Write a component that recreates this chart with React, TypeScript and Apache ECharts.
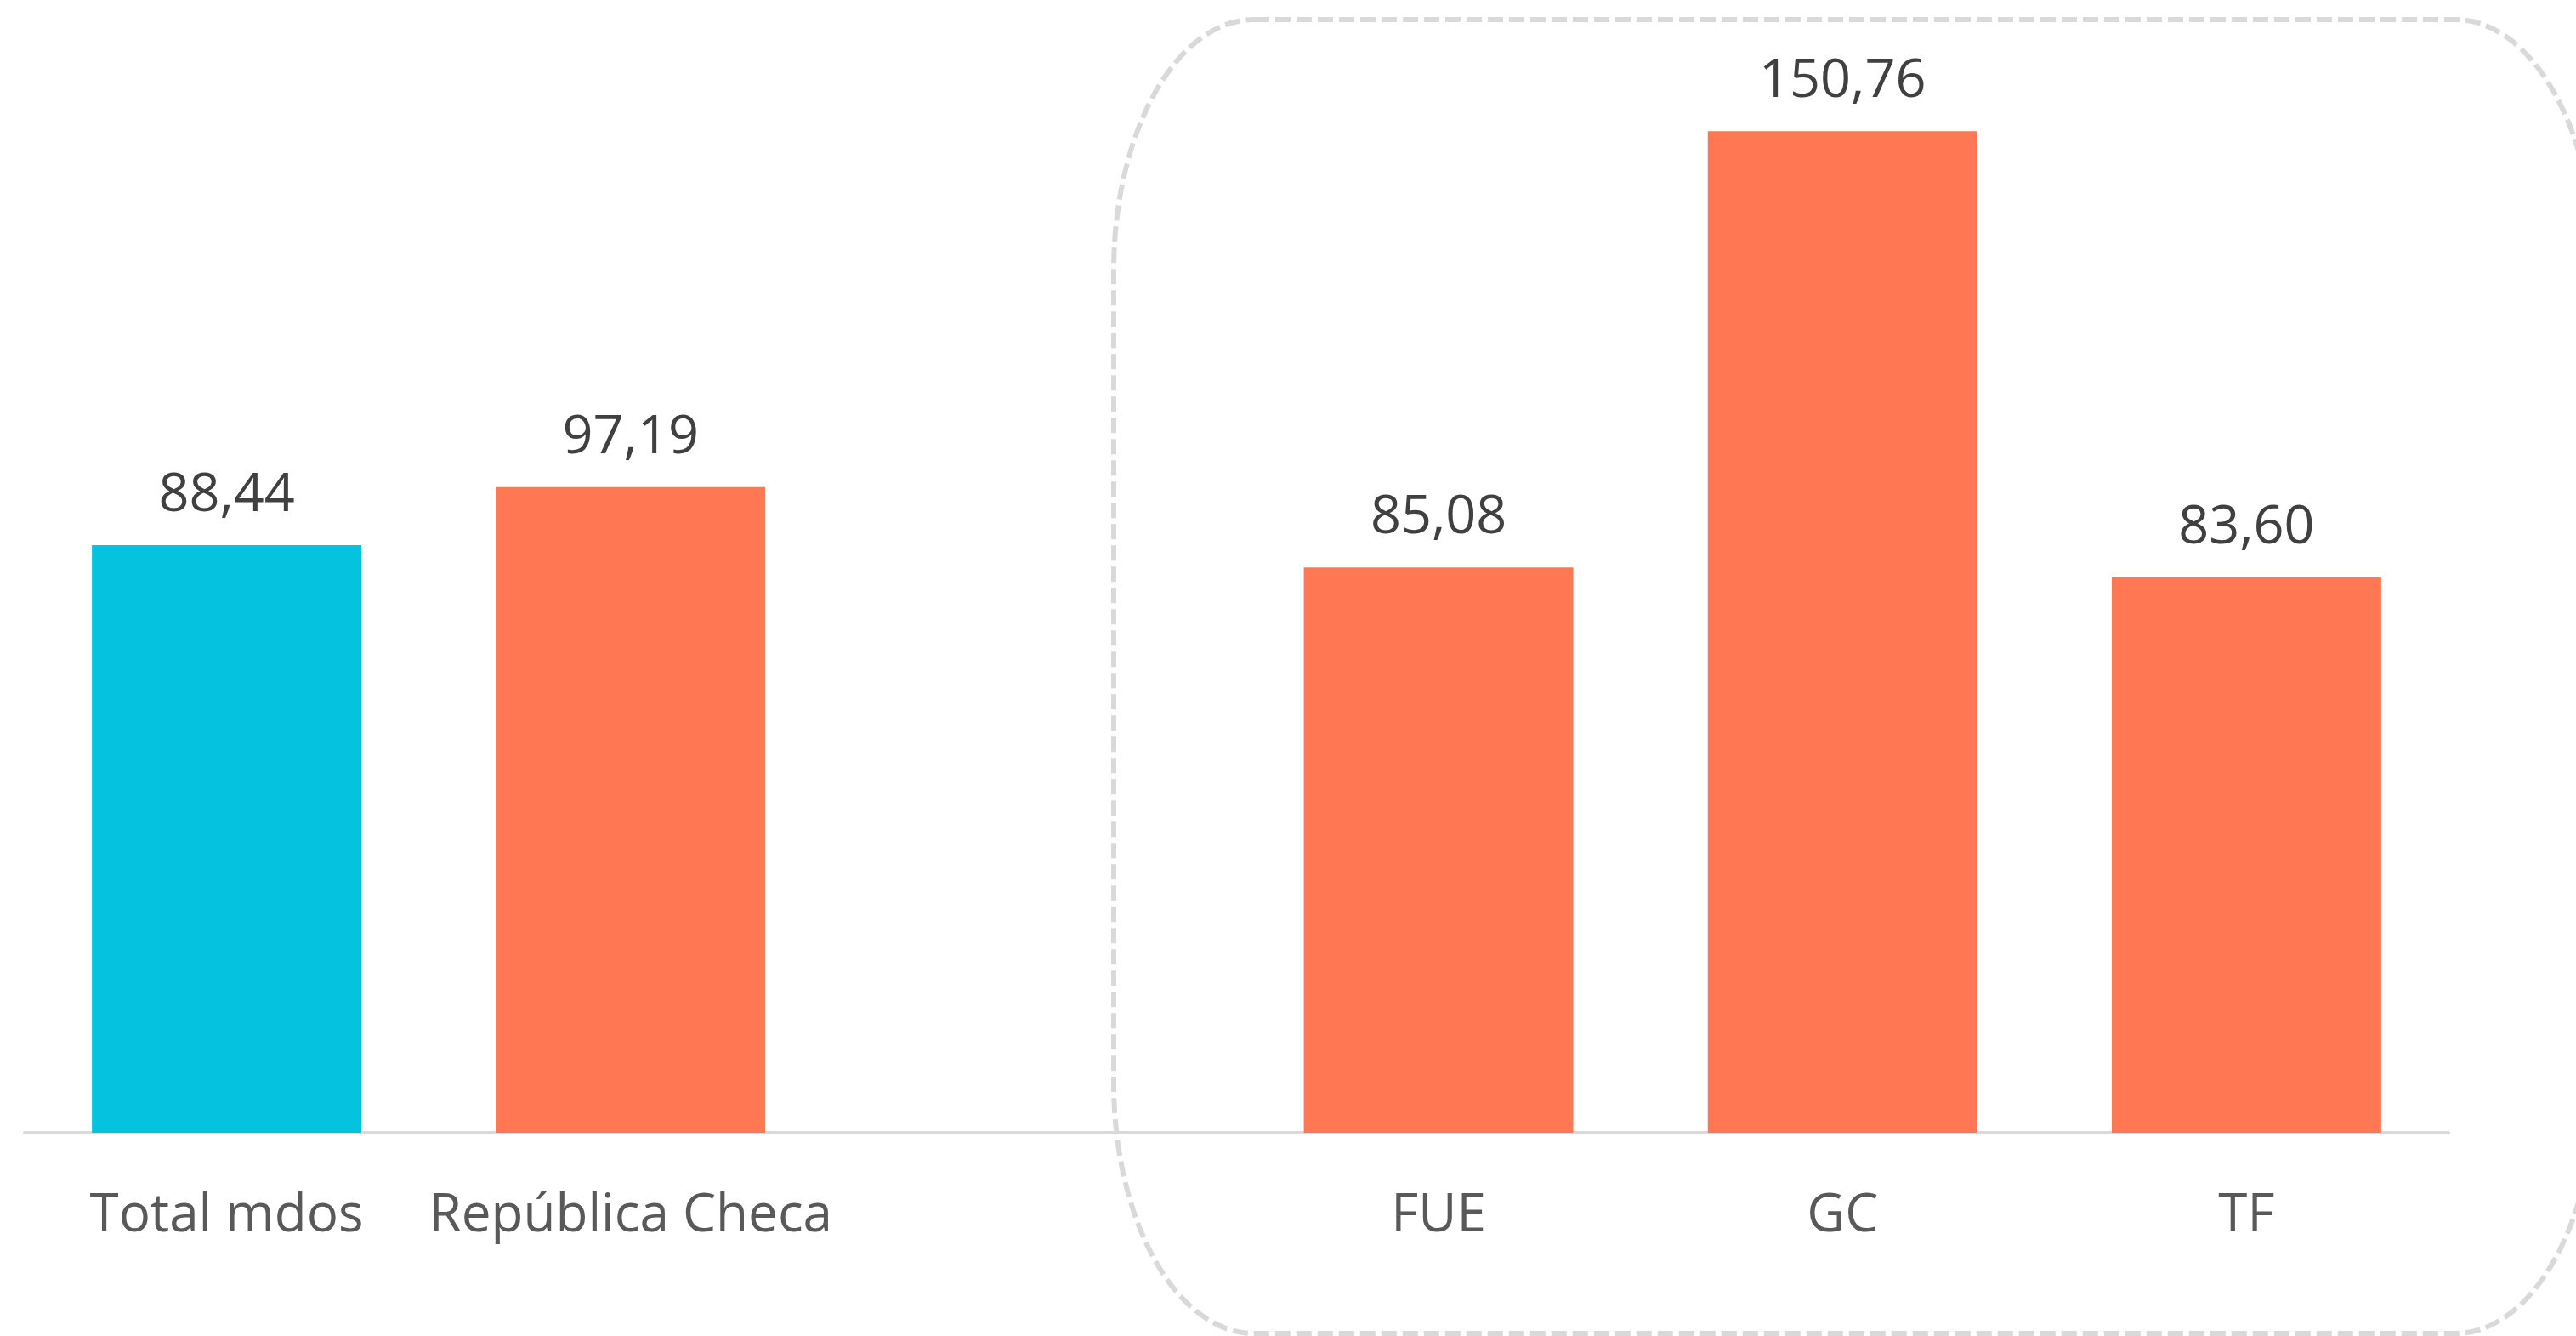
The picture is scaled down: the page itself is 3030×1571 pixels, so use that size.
import React, { useEffect, useRef } from "react";
import * as echarts from "echarts";

const categories = ["Total mdos", "República Checa", "", "FUE", "GC", "TF"];
const values: (number | string)[] = [88.44, 97.19, "-", 85.08, 150.76, 83.6];
const highlightIndex = [0];

const CYAN = "#05C3DE";
const ORANGE = "#FF7853";

const W = 3030;
const H = 1571;
const GRID_LEFT = 29;
const GRID_RIGHT = W - 2880;
const GRID_TOP = 82;
const GRID_BOTTOM = H - 1332;

// dashed rounded frame (decoration)
const FL = 1310, FT = 23, FR = 3053, FB = 1568, RX = 165, RY = 295;
const frameD =
  `M ${FL + RX} ${FT} H ${FR - RX} A ${RX} ${RY} 0 0 1 ${FR} ${FT + RY} ` +
  `V ${FB - RY} A ${RX} ${RY} 0 0 1 ${FR - RX} ${FB} H ${FL + RX} ` +
  `A ${RX} ${RY} 0 0 1 ${FL} ${FB - RY} V ${FT + RY} A ${RX} ${RY} 0 0 1 ${FL + RX} ${FT} Z`;

let registered = false;

export default function App() {
  const ref = useRef<HTMLDivElement>(null);
  useEffect(() => {
    document.body.style.margin = "0";
    if (!registered) {
      echarts.graphic.registerShape("frame", echarts.graphic.extendPath(frameD, {}) as any);
      registered = true;
    }
    const chart = echarts.init(ref.current!, null, { renderer: "svg" });
    chart.setOption({
      animation: false,
      backgroundColor: "#ffffff",
      grid: { left: GRID_LEFT, right: GRID_RIGHT, top: GRID_TOP, bottom: GRID_BOTTOM, containLabel: false },
      xAxis: {
        type: "category",
        data: categories,
        axisLine: { show: true, lineStyle: { color: "#d9d9d9", width: 4 } },
        axisTick: { show: false },
        axisLabel: {
          color: "#595959",
          fontFamily: "Open Sans",
          fontSize: 62,
          lineHeight: 62,
          margin: 61,
          interval: 0,
        },
      },
      yAxis: {
        type: "value",
        min: 0,
        max: 160,
        show: false,
        splitLine: { show: false },
      },
      graphic: [
        {
          type: "frame",
          x: 0,
          y: 0,
          z: -10,
          silent: true,
          style: {
            fill: "none",
            stroke: "#d9d9d9",
            lineWidth: 6,
            lineDash: [18, 7],
          },
        },
      ],
      series: [
        {
          type: "bar",
          barCategoryGap: "33.3%",
          data: values.map((v, i) => ({
            value: v,
            itemStyle: { color: highlightIndex.includes(i) ? CYAN : ORANGE },
          })),
          label: {
            show: true,
            position: "top",
            distance: 33,
            color: "#404040",
            fontFamily: "Open Sans",
            fontSize: 63,
            lineHeight: 63,
            formatter: (p: any) =>
              typeof p.value === "number" ? p.value.toFixed(2).replace(".", ",") : "",
          },
        },
      ],
    });
    return () => chart.dispose();
  }, []);
  return <div ref={ref} style={{ width: W, height: H }} />;
}
